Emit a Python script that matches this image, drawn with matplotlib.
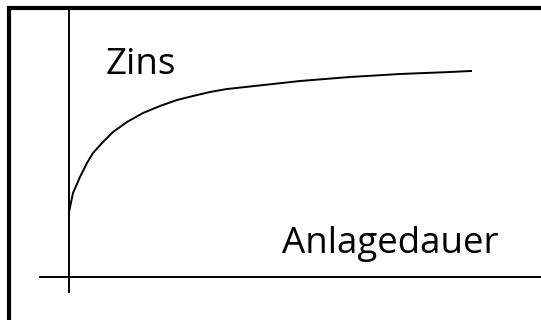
#!/usr/bin/env python3
"""Sketch: Zins vs. Anlagedauer."""
import matplotlib
matplotlib.use("Agg")
import matplotlib.pyplot as plt
from matplotlib.patches import Rectangle

# curve (pixels right / up from the axis crossing)
anlagedauer = [0, 4, 11, 18, 24, 34, 44, 58, 74, 91, 108, 124, 141, 158,
               181, 231, 281, 331, 381, 402]
zins = [65, 84, 100, 114, 124, 135, 145, 155, 164, 171, 177, 181, 185, 188,
        190.5, 196, 200, 203, 205, 206]

LABEL_Y = "Zins"
LABEL_X = "Anlagedauer"

plt.rcParams["font.family"] = ["Open Sans", "DejaVu Sans"]

fig = plt.figure(figsize=(5.41, 3.2), dpi=100)
ax = fig.add_axes([0, 0, 1, 1])
ax.set_xlim(-69, 472)
ax.set_ylim(-43, 277)
ax.axis("off")

# outer frame (only left and top edges fall inside the picture)
fig.patches.append(Rectangle((9 / 541, -0.1), 1.2, (320 - 7.5) / 320 + 0.1,
                             transform=fig.transFigure, fill=False,
                             edgecolor="black", linewidth=3))

# hand-drawn axes
ax.plot([-30, 472], [0, 0], color="black", linewidth=1.4, solid_capstyle="butt")
ax.plot([0, 0], [-16, 267], color="black", linewidth=1.4, solid_capstyle="butt")

ax.plot(anlagedauer, zins, color="black", linewidth=1.4)

ax.text(37, 203, LABEL_Y, fontsize=26.5, va="baseline", ha="left")
ax.text(213, 24, LABEL_X, fontsize=26.5, va="baseline", ha="left")

fig.savefig("out.png", dpi=100)
